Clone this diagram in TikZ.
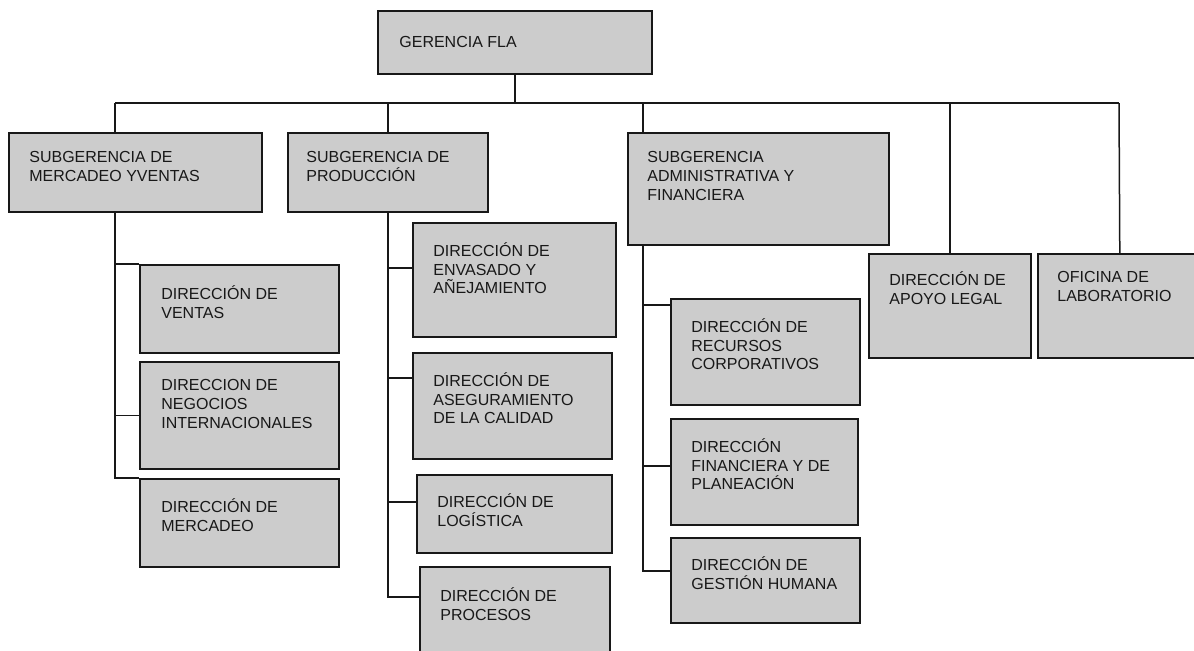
\documentclass[tikz,border=0pt]{standalone}
\usepackage{fontspec}
\setmainfont{Liberation Sans}
\usepackage{tikz}
\usetikzlibrary{positioning}
\definecolor{boxgray}{RGB}{204,204,204}
\definecolor{ink}{RGB}{24,24,24}

\begin{document}
\begin{tikzpicture}[x=0.5pt,y=-0.5pt,dims/.style 2 args={minimum width=#1*0.5pt,minimum height=#2*0.5pt}]
	\tikzstyle{unit}=[draw=ink, fill=boxgray, line width=0.8pt, anchor=north west, inner sep=0pt]
	\tikzstyle{tag}=[anchor=north west, align=left, inner sep=0pt, text=ink, font=\fontsize{8}{9.4}\selectfont, execute at begin node={\rule{0pt}{8pt}}]
	\tikzstyle{link}=[draw=ink, line width=0.75pt]
	\useasboundingbox (0,0) rectangle (1194,650);
		\node[unit, dims={274}{63}] (ger) at (377,10) {};
		\node[tag] (ger-t) at ([shift={(22,21)}]ger.north west) {GERENCIA FLA};
		\node[unit, dims={253}{79}] (merc) at (8,132) {};
		\node[tag] (merc-t) at ([shift={(21,19)}]merc.north west) {SUBGERENCIA DE\\MERCADEO YVENTAS};
		\node[unit, dims={200}{79}] (prod) at (287,132) {};
		\node[tag] (prod-t) at ([shift={(19,19)}]prod.north west) {SUBGERENCIA DE\\PRODUCCIÓN};
		\node[unit, dims={261}{112}] (admin) at (627,132) {};
		\node[tag] (admin-t) at ([shift={(20,19)}]admin.north west) {SUBGERENCIA\\ADMINISTRATIVA Y\\FINANCIERA};
		\node[unit, dims={162}{104}] (apoyo) at (868,253) {};
		\node[tag] (apoyo-t) at ([shift={(21,18)}]apoyo.north west) {DIRECCIÓN DE\\APOYO LEGAL};
		\node[unit, dims={164}{104}] (labo) at (1037,253) {};
		\node[tag] (labo-t) at ([shift={(20,18)}]labo.north west) {OFICINA DE\\LABORATORIO};
		\node[unit, dims={199}{88}] (ventas) at (139,264) {};
		\node[tag] (ventas-t) at ([shift={(22,21)}]ventas.north west) {DIRECCIÓN DE\\VENTAS};
		\node[unit, dims={199}{107}] (negocios) at (139,361) {};
		\node[tag] (negocios-t) at ([shift={(22,18)}]negocios.north west) {DIRECCION DE\\NEGOCIOS\\INTERNACIONALES};
		\node[unit, dims={199}{88}] (mercadeo) at (139,478) {};
		\node[tag] (mercadeo-t) at ([shift={(22,20)}]mercadeo.north west) {DIRECCIÓN DE\\MERCADEO};
		\node[unit, dims={203}{114}] (envasado) at (412,222) {};
		\node[tag] (envasado-t) at ([shift={(21,20)}]envasado.north west) {DIRECCIÓN DE\\ENVASADO Y\\AÑEJAMIENTO};
		\node[unit, dims={199}{106}] (aseg) at (412,352) {};
		\node[tag] (aseg-t) at ([shift={(21,20)}]aseg.north west) {DIRECCIÓN DE\\ASEGURAMIENTO\\DE LA CALIDAD};
		\node[unit, dims={195}{78}] (logist) at (416,474) {};
		\node[tag] (logist-t) at ([shift={(21,19)}]logist.north west) {DIRECCIÓN DE\\LOGÍSTICA};
		\node[unit, dims={190}{100}] (procesos) at (419,566) {};
		\node[tag] (procesos-t) at ([shift={(21,21)}]procesos.north west) {DIRECCIÓN DE\\PROCESOS};
		\node[unit, dims={189}{106}] (recursos) at (670,298) {};
		\node[tag] (recursos-t) at ([shift={(21,20)}]recursos.north west) {DIRECCIÓN DE\\RECURSOS\\CORPORATIVOS};
		\node[unit, dims={187}{106}] (financ) at (670,418) {};
		\node[tag] (financ-t) at ([shift={(21,20)}]financ.north west) {DIRECCIÓN\\FINANCIERA Y DE\\PLANEACIÓN};
		\node[unit, dims={189}{85}] (gestion) at (670,537) {};
		\node[tag] (gestion-t) at ([shift={(21,19)}]gestion.north west) {DIRECCIÓN DE\\GESTIÓN HUMANA};
	\coordinate (bus-l) at (115,103);
	\coordinate (bus-r) at (1119,103);
	\coordinate (adm-d) at (643,103);
	\coordinate (adm-k) at (643,257);
	\coordinate (j-env) at (387,268);
	\coordinate (j-ase) at (387,378);
	\coordinate (j-log) at (387,502);
	\coordinate (j-pro) at (387,597);
	\coordinate (j-rec) at (643,305);
	\coordinate (j-fin) at (643,466);
	\coordinate (j-ges) at (643,571);
		\draw[link] (ger.south) -- (ger.south |- bus-l);
		\draw[link] (bus-l) -- (bus-r);
		\draw[link] (bus-l) -- (bus-l |- merc.north);
		\draw[link] (prod.north |- bus-l) -- (prod.north);
		\draw[link] (adm-d) -- (adm-d |- admin.north);
		\draw[link] (apoyo.north |- bus-l) -- (apoyo.north);
		\draw[link] (bus-r) -- (labo.north);
		\draw[link] (bus-l |- merc.south) |- (mercadeo.north west);
		\draw[link] (bus-l |- ventas.north west) -- (ventas.north west);
		\draw[link] (bus-l |- negocios.west) -- (negocios.west);
		\draw[link] (prod.south) |- (j-pro -| procesos.west);
		\draw[link] (j-env) -- (j-env -| envasado.west);
		\draw[link] (j-ase) -- (j-ase -| aseg.west);
		\draw[link] (j-log) -- (j-log -| logist.west);
		\draw[link] (adm-d |- admin.south) |- (j-ges -| gestion.west);
		\draw[link, line width=1.4pt] (adm-k) -- (j-rec);
		\draw[link] (j-rec) -- (j-rec -| recursos.west);
		\draw[link] (j-fin) -- (j-fin -| financ.west);
\end{tikzpicture}
\end{document}
